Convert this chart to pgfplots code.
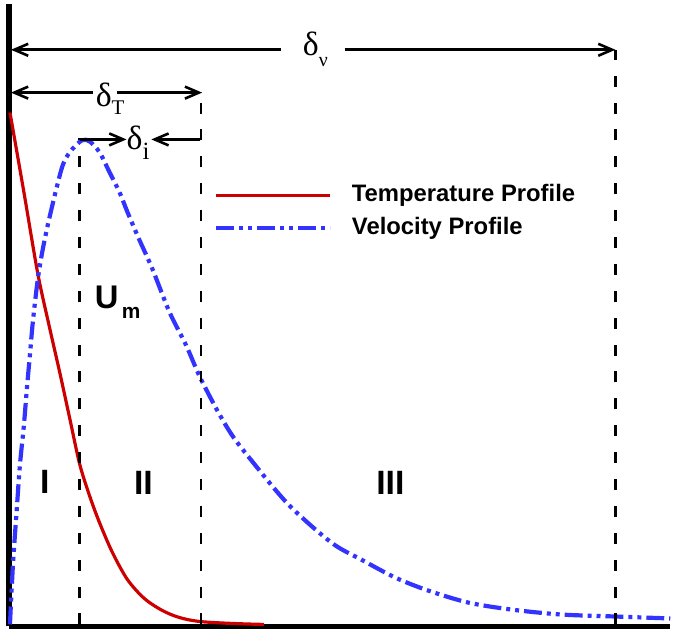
\documentclass[border=0pt]{standalone}
\usepackage{pgfplots}
\pgfplotsset{compat=1.18}
\usetikzlibrary{arrows.meta}
\usepackage{fontspec}
\setmainfont{Liberation Serif}
\newfontfamily\arial{Liberation Sans}
\definecolor{tred}{RGB}{204,0,0}
\definecolor{vblue}{RGB}{51,51,255}
\begin{document}
\begin{tikzpicture}
\begin{axis}[
  x=1bp, y=1bp,
  xmin=-1, xmax=663, ymin=-2, ymax=623,
  axis x line=bottom, axis y line=left,
  axis line style={-, line width=5.5bp},
  xtick=\empty, ytick=\empty,
  clip=false,
  legend image code/.code={\draw[#1] (0bp,0bp) -- (114bp,0bp);},
  legend style={draw=none, fill=none, at={(axis cs:202,444)}, anchor=north west,
    font=\arial\bfseries\fontsize{24}{24}\selectfont,
    nodes={inner sep=0pt, text height=17bp, text depth=5bp},
    row sep=11bp,
    /tikz/every odd column/.append style={column sep=20bp}},
  legend cell align=left,
]
\path (axis cs:-10,-5) rectangle (axis cs:663,627);
% Temperature profile
\addplot[color=tred, line width=3.2bp, smooth] coordinates {
(0,514) (14,434) (28,352) (40,297) (50,253) (60,207) (70,161) (80,129) (90,102)
(103,72) (118,45) (135,26) (153,14) (170,7) (190,3) (223,1) (255,0)
};
\addlegendentry{Temperature Profile}
% Velocity profile
\addplot[color=vblue, line width=4.2bp, smooth,
  dash pattern=on 18bp off 5bp on 4bp off 5bp on 4bp off 5bp] coordinates {
(0,0) (3,60) (7,118) (10,160) (14,200) (17,237) (20,270) (23,304) (28,347) (33,377)
(40,410) (52,458) (60,474) (72,486) (80,485) (90,474) (100,454) (110,434) (118,414)
(130,386) (143,357) (160,314) (177,280) (190,250) (207,217) (223,190) (243,164)
(280,120) (323,82) (353,65) (387,47) (420,34) (460,22) (503,15) (553,10) (607,8) (663,6)
};
\addlegendentry{Velocity Profile}
% dashed boundaries
\draw[line width=2.4bp, dash pattern=on 11bp off 16bp] (axis cs:70,0) -- (axis cs:70,488);
\draw[line width=2.4bp, dash pattern=on 11bp off 16bp] (axis cs:192,0) -- (axis cs:192,534);
\draw[line width=2.4bp, dash pattern=on 11bp off 16bp] (axis cs:608,0) -- (axis cs:608,577);
% arrows
\tikzset{arr/.style={line width=2.6bp, -{Straight Barb[length=14bp,width=12bp]}}}
\draw[arr] (axis cs:272,577) -- (axis cs:1,577);
\draw[arr] (axis cs:336,577) -- (axis cs:608,577);
\draw[arr] (axis cs:83,534) -- (axis cs:1,534);
\draw[arr] (axis cs:107,534) -- (axis cs:193,534);
\draw[arr] (axis cs:70,487) -- (axis cs:117,487);
\draw[arr] (axis cs:191,487) -- (axis cs:142,487);
% labels
\node[anchor=base west, inner sep=0pt] at (axis cs:294,571)
  {\fontsize{34}{34}\selectfont δ\raisebox{-11bp}{\fontsize{20}{20}\selectfont ν}};
\node[anchor=base west, inner sep=0pt] at (axis cs:86,520)
  {\fontsize{34}{34}\selectfont δ\raisebox{-8bp}{\fontsize{21}{21}\selectfont T}};
\node[anchor=base west, inner sep=0pt] at (axis cs:117,477)
  {\fontsize{34}{34}\selectfont δ\raisebox{-10bp}{\fontsize{25}{25}\selectfont i}};
\node[anchor=base west, inner sep=0pt] at (axis cs:85,317)
  {\arial\bfseries\fontsize{33}{33}\selectfont U\raisebox{-10bp}{\fontsize{21}{21}\selectfont\,m}};
\node[anchor=base, inner sep=0pt] at (axis cs:35,131) {\arial\bfseries\fontsize{34}{34}\selectfont I};
\node[anchor=base, inner sep=0pt] at (axis cs:134,130) {\arial\bfseries\fontsize{34}{34}\selectfont II};
\node[anchor=base, inner sep=0pt] at (axis cs:382,130) {\arial\bfseries\fontsize{34}{34}\selectfont III};
\end{axis}
\end{tikzpicture}
\end{document}
